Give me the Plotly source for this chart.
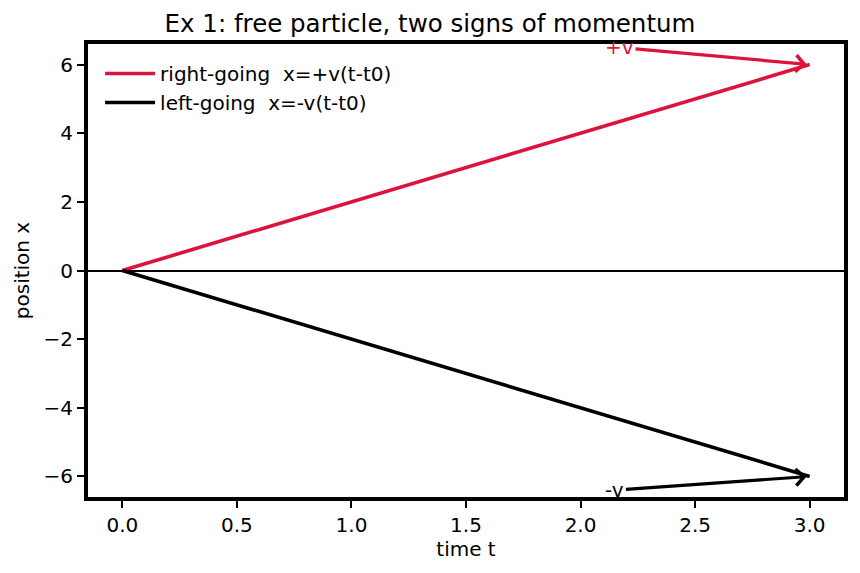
import plotly.graph_objects as go

t = [0.0, 3.0]
x_right = [0.0, 6.0]
x_left = [0.0, -6.0]
labels = ["right-going  x=+v(t-t0)", "left-going  x=-v(t-t0)"]
colors = ["#DC143C", "#000000"]
ann_text = ["+v", "-v"]
ann_tail = [(2.17, 6.5), (2.15, -6.4)]
ann_head = [(3.0, 6.0), (3.0, -6.0)]

fig = go.Figure()
fig.add_trace(go.Scatter(x=t, y=x_right, mode="lines", name=labels[0],
                         line=dict(color=colors[0], width=3.6)))
fig.add_trace(go.Scatter(x=t, y=x_left, mode="lines", name=labels[1],
                         line=dict(color=colors[1], width=3.6)))

for txt, (ax, ay), (hx, hy), c in zip(ann_text, ann_tail, ann_head, colors):
    fig.add_annotation(x=hx, y=hy, ax=ax, ay=ay, xref="x", yref="y",
                       axref="x", ayref="y", text=txt, showarrow=True,
                       arrowhead=4, arrowsize=1, arrowwidth=3.2, arrowcolor=c,
                       standoff=3,
                       font=dict(color=c, size=20, family="DejaVu Sans"))

fig.update_layout(
    width=860, height=573,
    margin=dict(l=88, r=14, t=44, b=76),
    paper_bgcolor="white", plot_bgcolor="white",
    font=dict(family="DejaVu Sans", size=20, color="black"),
    title=dict(text="Ex 1: free particle, two signs of momentum",
               x=0.5, xanchor="center", y=1 - 23 / 573, yanchor="middle",
               font=dict(size=24.5)),
    showlegend=True,
    legend=dict(x=0.016, y=0.978, xanchor="left", yanchor="top",
                itemwidth=50,
                bgcolor="rgba(255,255,255,0)", font=dict(size=20)),
)
fig.update_xaxes(range=[-0.15, 3.15], tickvals=[0, 0.5, 1, 1.5, 2, 2.5, 3],
                 ticktext=["0.0", "0.5", "1.0", "1.5", "2.0", "2.5", "3.0"],
                 ticks="outside", ticklen=7, tickwidth=1.6, tickcolor="black",
                 tickfont=dict(size=20),
                 showline=True, linewidth=4, linecolor="black", mirror=True,
                 showgrid=False, zeroline=False,
                 title=dict(text="time t", standoff=6, font=dict(size=20)))
fig.update_yaxes(range=[-6.6, 6.6], tickvals=[-6, -4, -2, 0, 2, 4, 6],
                 ticks="outside", ticklen=7, tickwidth=1.6, tickcolor="black",
                 tickfont=dict(size=20),
                 showline=True, linewidth=4, linecolor="black", mirror=True,
                 showgrid=False, zeroline=True, zerolinecolor="black",
                 zerolinewidth=1.6,
                 title=dict(text="position x", standoff=10, font=dict(size=20)))

fig.write_html("out.html")
